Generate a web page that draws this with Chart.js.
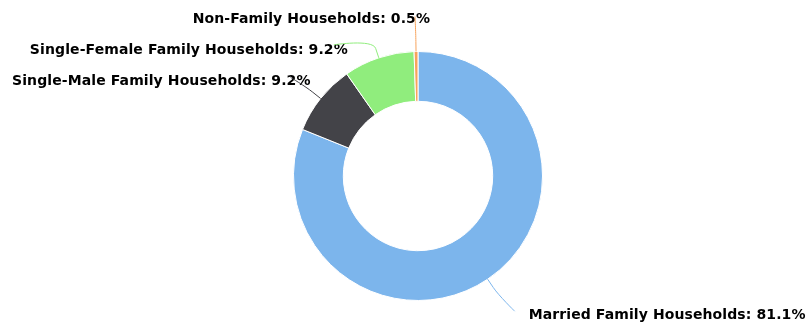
<!DOCTYPE html>
<html>
<head>
<meta charset="utf-8">
<script src="https://cdn.jsdelivr.net/npm/chart.js@4/dist/chart.umd.min.js"></script>
<style>
  html, body { margin: 0; padding: 0; background: #ffffff; }
  #wrap { width: 808px; height: 324px; }
</style>
</head>
<body>
<div id="wrap"><canvas id="c" width="808" height="324"></canvas></div>
<script>
// Household composition shares (percent)
const categories = [
  'Married Family Households',
  'Single-Male Family Households',
  'Single-Female Family Households',
  'Non-Family Households'
];
const shares = [81.1, 9.2, 9.2, 0.5];
const sliceColors = ['#7cb5ec', '#434348', '#90ed7d', '#f7a35c'];

// Connector end relative to the slice's outer edge point (dx, dy),
// then the text anchor relative to that connector end (tx, ty)
const labelLayout = [
  { dx: 27, dy: 32, tx: 14, ty: 4.5, side: 'right' },
  { dx: -30, dy: -21, tx: 20, ty: 4, side: 'left' },
  { dx: -45, dy: -13, tx: 14, ty: 6, side: 'left' },
  { dx: -1, dy: -35, tx: 15, ty: 2.5, side: 'left' }
];

const LABEL_FONT = 'bold 14px "DejaVu Sans", Verdana, sans-serif';

// Outside data labels with soft connector lines
const outsideLabels = {
  id: 'outsideLabels',
  afterDatasetsDraw(chart) {
    const ctx = chart.ctx;
    const meta = chart.getDatasetMeta(0);
    const items = [];
    meta.data.forEach((arc, i) => {
      const p = arc.getProps(['x', 'y', 'startAngle', 'endAngle', 'outerRadius'], true);
      const mid = (p.startAngle + p.endAngle) / 2;
      const ux = Math.cos(mid), uy = Math.sin(mid);
      const ex = p.x + ux * p.outerRadius, ey = p.y + uy * p.outerRadius;
      const lay = labelLayout[i];
      const sx = ex + lay.dx, sy = ey + lay.dy;
      const bx = ex + ux * 10, by = ey + uy * 10;
      items.push({ i, ex, ey, sx, sy, bx, by, lay });
    });

    // label text with a thin white halo
    ctx.save();
    ctx.font = LABEL_FONT;
    ctx.letterSpacing = '0.1px';
    ctx.textBaseline = 'middle';
    ctx.lineJoin = 'round';
    items.forEach(it => {
      const text = categories[it.i] + ': ' + shares[it.i].toFixed(1) + '%';
      const tx = it.sx + it.lay.tx;
      const ty = it.sy + it.lay.ty;
      ctx.textAlign = it.lay.side === 'right' ? 'left' : 'right';
      ctx.strokeStyle = '#ffffff';
      ctx.lineWidth = 2;
      ctx.strokeText(text, tx, ty);
      ctx.fillStyle = '#000000';
      ctx.fillText(text, tx, ty);
    });
    ctx.restore();

    // connectors
    ctx.save();
    ctx.lineWidth = 1;
    items.forEach(it => {
      ctx.strokeStyle = sliceColors[it.i];
      ctx.beginPath();
      ctx.moveTo(it.sx, it.sy);
      ctx.bezierCurveTo(it.sx, it.sy, 2 * it.bx - it.ex, 2 * it.by - it.ey, it.bx, it.by);
      ctx.lineTo(it.ex, it.ey);
      ctx.stroke();
    });
    ctx.restore();
  }
};

new Chart(document.getElementById('c'), {
  type: 'doughnut',
  data: {
    labels: categories,
    datasets: [{
      data: shares,
      backgroundColor: sliceColors,
      borderColor: '#ffffff',
      borderWidth: 1,
      hoverOffset: 0
    }]
  },
  options: {
    responsive: false,
    animation: false,
    cutout: '60%',
    layout: { padding: { left: 293, right: 265, top: 51, bottom: 23 } },
    plugins: {
      legend: { display: false },
      tooltip: { enabled: false }
    }
  },
  plugins: [outsideLabels]
});
</script>
</body>
</html>
